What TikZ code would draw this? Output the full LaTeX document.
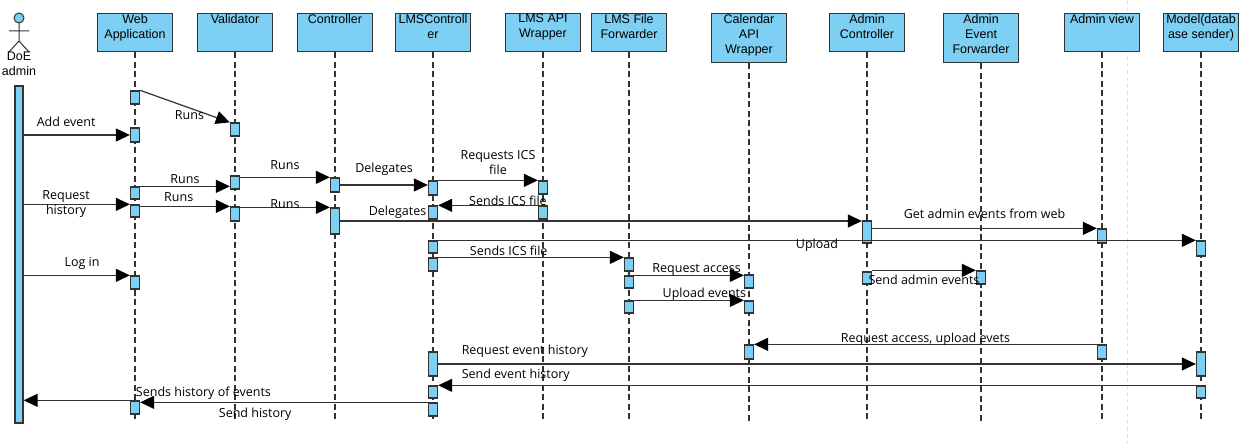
\documentclass[tikz,border=0pt]{standalone}
\usepackage{fontspec}
\setmainfont{Liberation Sans}
\newfontfamily\msgfont{Open Sans}
\usetikzlibrary{calc}
\usetikzlibrary{arrows.meta}
\usetikzlibrary{positioning}
\definecolor{barblue}{RGB}{125,207,243}
\definecolor{linegray}{RGB}{51,51,51}
\tikzset{
  head/.style={draw=linegray, line width=1.3pt, fill=barblue, minimum width=75pt, anchor=north, inner sep=0pt},
  htxt/.style={anchor=north, align=center, inner sep=1pt, font=\fontsize{12.5}{15}\selectfont},
  life/.style={draw=linegray, line width=1.3pt, dash pattern=on 6pt off 3.5pt},
  act/.style={draw=linegray, line width=1.3pt, fill=barblue, minimum width=9pt, inner sep=0pt},
  msg/.style={draw=linegray, line width=1.2pt, -{Triangle[length=14pt,width=13pt,color=black]}},
  lbl/.style={font=\msgfont\fontsize{12.5}{15}\selectfont, inner sep=1pt, align=center},
}
\begin{document}
\begin{tikzpicture}[x=1pt, y=-1pt]
\useasboundingbox[fill=white] (0,0) rectangle (1242,444);
\coordinate (bottom) at (0,422);
\def\actbox#1#2#3#4{\node[act, minimum height={#4-#3}] (#1) at (#2,{(#3+#4)/2}) {};}
% light guide line
\draw[gray!25, line width=1pt, dash pattern=on 4pt off 3pt] (1127,0) -- (1127,444);
% actor
\draw[linegray, line width=1pt, fill=barblue] (19,18) circle[radius=5pt];
\draw[linegray, line width=1pt] (19,23) -- (19,41) (9,31) -- (29,31) (9,52) -- (19,41) -- (29,52);
\node[htxt] (adminT) at (19,51) {DoE\\admin};
\node[act, minimum width=8pt, minimum height=337pt] (actbar) at (19,254.5) {};
% heads and lifelines
\foreach \n/\x/\h/\t in {web/135/38/{Web\\Application}, val/235/38/Validator, ctl/335/38/Controller,
    lmsc/433/38/{LMSControll\\er}, api/543/38/{LMS API\\Wrapper}, fwd/629/38/{LMS File\\Forwarder},
    cal/749/49/{Calendar\\API\\Wrapper}, adm/867/38/{Admin\\Controller}, aef/981/49/{Admin\\Event\\Forwarder},
    view/1102/38/{Admin view}, model/1201/38/{Model(datab\\ase sender)}}{
  \node[head, minimum height=\h pt] (\n) at (\x,13) {};
  \node[htxt] (\n T) at (\n.north) {\t};
  \draw[life] (\n.south) -- (\n.south |- bottom);
}
% activations
\actbox{w1}{135}{91}{104}
\actbox{w2}{135}{128}{142}
\actbox{w3}{135}{187}{199}
\actbox{w4}{135}{205}{217}
\actbox{w6}{135}{276}{289}
\actbox{w5}{135}{401}{414}
\actbox{v1}{235}{123}{136}
\actbox{v2}{235}{176}{189}
\actbox{v3}{235}{207}{221}
\actbox{c1}{335}{178}{192}
\actbox{c2}{335}{208}{234}
\actbox{l1}{433}{181}{195}
\actbox{l2}{433}{206}{219}
\actbox{l3}{433}{241}{253}
\actbox{l4}{433}{258}{271}
\actbox{l5}{433}{352}{376}
\actbox{l6}{433}{386}{398}
\actbox{l7}{433}{403}{416}
\actbox{a1}{543}{181}{194}
\actbox{a2}{543}{206}{219}
\actbox{f1}{629}{258}{271}
\actbox{f2}{629}{276}{288}
\actbox{f3}{629}{301}{313}
\actbox{ca1}{749}{275}{288}
\actbox{ca2}{749}{301}{313}
\actbox{ca3}{749}{345}{359}
\actbox{ad1}{867}{221}{243}
\actbox{ad2}{867}{272}{284}
\actbox{e1}{981}{271}{284}
\actbox{vw1}{1102}{229}{243}
\actbox{vw2}{1102}{345}{359}
\actbox{m1}{1201}{241}{256}
\actbox{m2}{1201}{352}{376}
\actbox{m3}{1201}{386}{398}
% messages
\draw[msg] (w1.north east) -- node[lbl, pos=.55, below=1pt] {Runs} (v1.north west);
\draw[msg] (actbar.east |- w2.center) -- node[lbl, pos=.4, above=7pt] {Add event} (w2.west);
\draw[msg] (w3.north east) -- node[lbl, above=1pt] {Runs} (v2.west |- w3.north);
\draw[msg] (v2.east |- c1.north) -- node[lbl, above=6pt] {Runs} (c1.north west);
\draw[msg] (c1.east) -- node[lbl, above=8pt] {Delegates} (l1.west |- c1.east);
\draw[msg] (l1.north east) -- node[lbl, pos=.6, above=4pt] {Requests ICS\\file} (a1.north west);
\draw[msg] (actbar.east |- w4.north) -- node[lbl, pos=.4] {Request\\history} (w4.north west);
\draw[msg] (w4.east |- v3.north) -- node[lbl, pos=.43, above=3pt] {Runs} (v3.north west);
\draw[msg] (v3.east |- c2.north) -- node[lbl, yshift=3pt] {Runs} (c2.north west);
\draw[msg] (a2.north west) -- node[lbl, pos=.3, yshift=5pt] {Sends ICS file} (l2.north east);
\draw[msg] (c2.east) -- node[lbl, pos=.11, above=1pt] {Delegates} (ad1.west |- c2.east);
\draw[msg] (ad1.east |- vw1.north) -- node[lbl, above=8pt] {Get admin events from web} (vw1.north west);
\draw[msg] (l3.north east) -- node[lbl, yshift=-5pt] {Upload} (m1.west |- l3.north);
\draw[msg] (l4.north east) -- node[lbl, pos=.38, above=0pt] {Sends ICS file} (f1.north west);
\draw[msg] (f2.north east) -- node[lbl, pos=.57, yshift=6pt] {Request access} (ca1.west |- f2.north);
\draw[msg] (f3.north east) -- node[lbl, pos=.64, yshift=6pt] {Upload events} (ca2.north west);
\draw[msg] (ad2.east |- e1.north) -- node[lbl, yshift=-9pt] {Send admin events} (e1.north west);
\draw[msg] (vw2.north west) -- node[lbl, yshift=5pt] {Request access, upload evets} (ca3.north east);
\draw[msg] (l5.east) -- node[lbl, pos=0, anchor=south west, xshift=22pt, yshift=5pt] {Request event history} (m2.west);
\draw[msg] (m3.north west) -- node[lbl, pos=1, anchor=south west, xshift=22pt, yshift=2pt] {Send event history} (l6.north east);
\draw[msg] (l7.north west) -- node[lbl, pos=.6, below=4pt] {Send history}
  node[lbl, pos=.78, yshift=9pt] {Sends history of events} (w5.east |- l7.north);
\draw[msg] (w5.north west) -- (actbar.east |- w5.north);
\draw[msg] (actbar.east |- w6.north) -- node[lbl, pos=.55, above=4pt] {Log in} (w6.north west);
\end{tikzpicture}
\end{document}
